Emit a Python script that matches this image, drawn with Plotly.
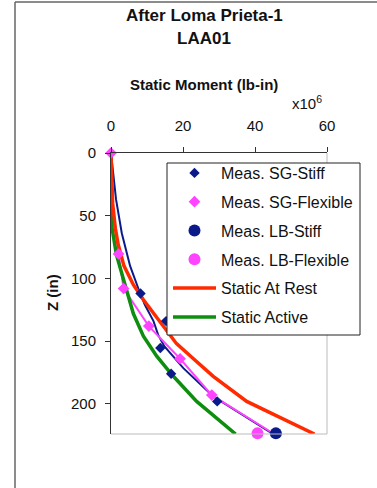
import plotly.graph_objects as go

# ---- data (moment in 1e6 lb-in, depth Z in inches) ----
sg_stiff_x = [0, 8.2, 15.3, 13.7, 16.7, 29.5]
sg_stiff_z = [0, 112, 134, 155.5, 176, 198]

sg_flex_x = [0, 2.1, 3.5, 10.5, 19.2, 28.0]
sg_flex_z = [0, 80.5, 108, 138, 164, 193]

lb_stiff_x = [45.8]
lb_stiff_z = [223.5]
lb_flex_x = [40.7]
lb_flex_z = [223.5]

rest_x = [0, 0.15, 0.45, 1.2, 2.0, 3.6, 6.2, 9.0, 13.6, 18.2, 22.9, 28.4, 37.7, 46.9, 56.5]
rest_z = [0, 20, 40, 60, 73, 90, 105, 117, 135, 152, 164, 178, 198, 211, 224]

active_x = [0, 0.05, 0.3, 1.5, 2.9, 4.4, 6.2, 9.0, 12.7, 17.0, 23.8, 34.6]
active_z = [0, 30, 60, 81, 95, 112, 128, 146, 162, 177, 198, 224]

stiff_fit_x = [0, 0.65, 1.4, 3.0, 5.3, 8.1, 9.4, 11.8, 13.1, 14.8, 20.1, 28.4, 44.2]
stiff_fit_z = [0, 16, 37, 64, 90, 112, 121, 134, 145, 154, 171.5, 194, 222.5]

flex_fit_x = [0, 0.4, 2.1, 3.5, 10.5, 19.2, 28.0, 44.2]
flex_fit_z = [0, 40, 80.5, 108, 138, 164, 193, 222]

x_ticks = [0, 20, 40, 60]
z_ticks = [0, 50, 100, 150, 200]

NAVY = "#0b1a8a"
PINK = "#ff44ff"
RED = "#ff2a00"
GREEN = "#0e8e0e"
FONT = "Liberation Sans, Arial, sans-serif"

fig = go.Figure()

# lines without legend entries
fig.add_trace(go.Scatter(x=stiff_fit_x, y=stiff_fit_z, mode="lines",
                         line=dict(color=NAVY, width=2), showlegend=False, hoverinfo="skip"))
fig.add_trace(go.Scatter(x=flex_fit_x, y=flex_fit_z, mode="lines",
                         line=dict(color=PINK, width=2), showlegend=False, hoverinfo="skip"))
fig.add_trace(go.Scatter(x=active_x, y=active_z, mode="lines", name="Static Active",
                         line=dict(color=GREEN, width=3.5), legendrank=6))
fig.add_trace(go.Scatter(x=rest_x, y=rest_z, mode="lines", name="Static At Rest",
                         line=dict(color=RED, width=3.5), legendrank=5))
fig.add_trace(go.Scatter(x=sg_stiff_x, y=sg_stiff_z, mode="markers", name="Meas. SG-Stiff",
                         marker=dict(symbol="diamond", size=8, color=NAVY), legendrank=1,
                         cliponaxis=False))
fig.add_trace(go.Scatter(x=sg_flex_x, y=sg_flex_z, mode="markers", name="Meas. SG-Flexible",
                         marker=dict(symbol="diamond", size=9, color=PINK), legendrank=2,
                         cliponaxis=False))
fig.add_trace(go.Scatter(x=lb_stiff_x, y=lb_stiff_z, mode="markers", name="Meas. LB-Stiff",
                         marker=dict(symbol="circle", size=12, color=NAVY), legendrank=3,
                         cliponaxis=False))
fig.add_trace(go.Scatter(x=lb_flex_x, y=lb_flex_z, mode="markers", name="Meas. LB-Flexible",
                         marker=dict(symbol="circle", size=12, color=PINK), legendrank=4,
                         cliponaxis=False))

for i, tr in enumerate(fig.data):
    tr.legendgroup = "g%d" % i

L, R, T, B = 111, 50, 153, 54
W, H = 377, 488
pw, ph = W - L - R, H - T - B


def px(xp):
    return (xp - L) / pw


def py(yp):
    return (H - B - yp) / ph


fig.update_layout(
    width=W, height=H,
    margin=dict(l=L, r=R, t=T, b=B),
    paper_bgcolor="white", plot_bgcolor="white",
    font=dict(family=FONT, size=15, color="#111"),
    showlegend=True,
    legend=dict(x=px(168), y=py(156), xanchor="left", yanchor="top",
                bgcolor="rgba(0,0,0,0)", borderwidth=0,
                font=dict(family=FONT, size=16, color="#111"),
                traceorder="grouped", tracegroupgap=5, itemwidth=43),
    xaxis=dict(range=[0, 60], side="top", tickvals=x_ticks, ticks="outside", ticklen=5,
               tickcolor="#333", showline=True, linecolor="#333", linewidth=1,
               showgrid=False, zeroline=False, ticklabelstandoff=10,
               tickfont=dict(family=FONT, size=15, color="#111")),
    yaxis=dict(range=[224, 0], tickvals=z_ticks, ticks="outside", ticklen=5,
               tickcolor="#333", showline=True, linecolor="#333", linewidth=1,
               showgrid=False, zeroline=False, ticklabelstandoff=6,
               tickfont=dict(family=FONT, size=15, color="#111")),
    shapes=[
        # light right / bottom frame of plot area
        dict(type="line", xref="paper", yref="paper", x0=1, x1=1, y0=0, y1=1,
             line=dict(color="#bbbbbb", width=1)),
        dict(type="line", xref="paper", yref="paper", x0=0, x1=1, y0=0, y1=0,
             line=dict(color="#bbbbbb", width=1)),
        # outer chart border (left and top)
        dict(type="line", xref="paper", yref="paper", x0=px(15), x1=px(15), y0=py(2), y1=py(490),
             line=dict(color="#666", width=1.5)),
        dict(type="line", xref="paper", yref="paper", x0=px(15), x1=px(380), y0=py(2), y1=py(2),
             line=dict(color="#666", width=1.5)),
        # legend box
        dict(type="rect", xref="paper", yref="paper", x0=px(167), x1=px(360), y0=py(335), y1=py(163),
             fillcolor="white", line=dict(color="#222", width=1), layer="above"),
    ],
    annotations=[
        dict(text="<b>After Loma Prieta-1</b>", xref="paper", yref="paper", x=px(204), y=py(16),
             showarrow=False, font=dict(family=FONT, size=17, color="#111"), xanchor="center", yanchor="middle"),
        dict(text="<b>LAA01</b>", xref="paper", yref="paper", x=px(204), y=py(39),
             showarrow=False, font=dict(family=FONT, size=17, color="#111"), xanchor="center", yanchor="middle"),
        dict(text="<b>Static Moment (lb-in)</b>", xref="paper", yref="paper", x=px(204), y=py(84),
             showarrow=False, font=dict(family=FONT, size=15, color="#111"), xanchor="center", yanchor="middle"),
        dict(text="x10<sup>6</sup>", xref="paper", yref="paper", x=px(307), y=py(103),
             showarrow=False, font=dict(family=FONT, size=15, color="#111"), xanchor="center", yanchor="middle"),
        dict(text="<b>Z (in)</b>", xref="paper", yref="paper", x=px(52), y=py(293), textangle=-90,
             showarrow=False, font=dict(family=FONT, size=15, color="#111"), xanchor="center", yanchor="middle"),
    ],
)

fig.write_html("out.html")
